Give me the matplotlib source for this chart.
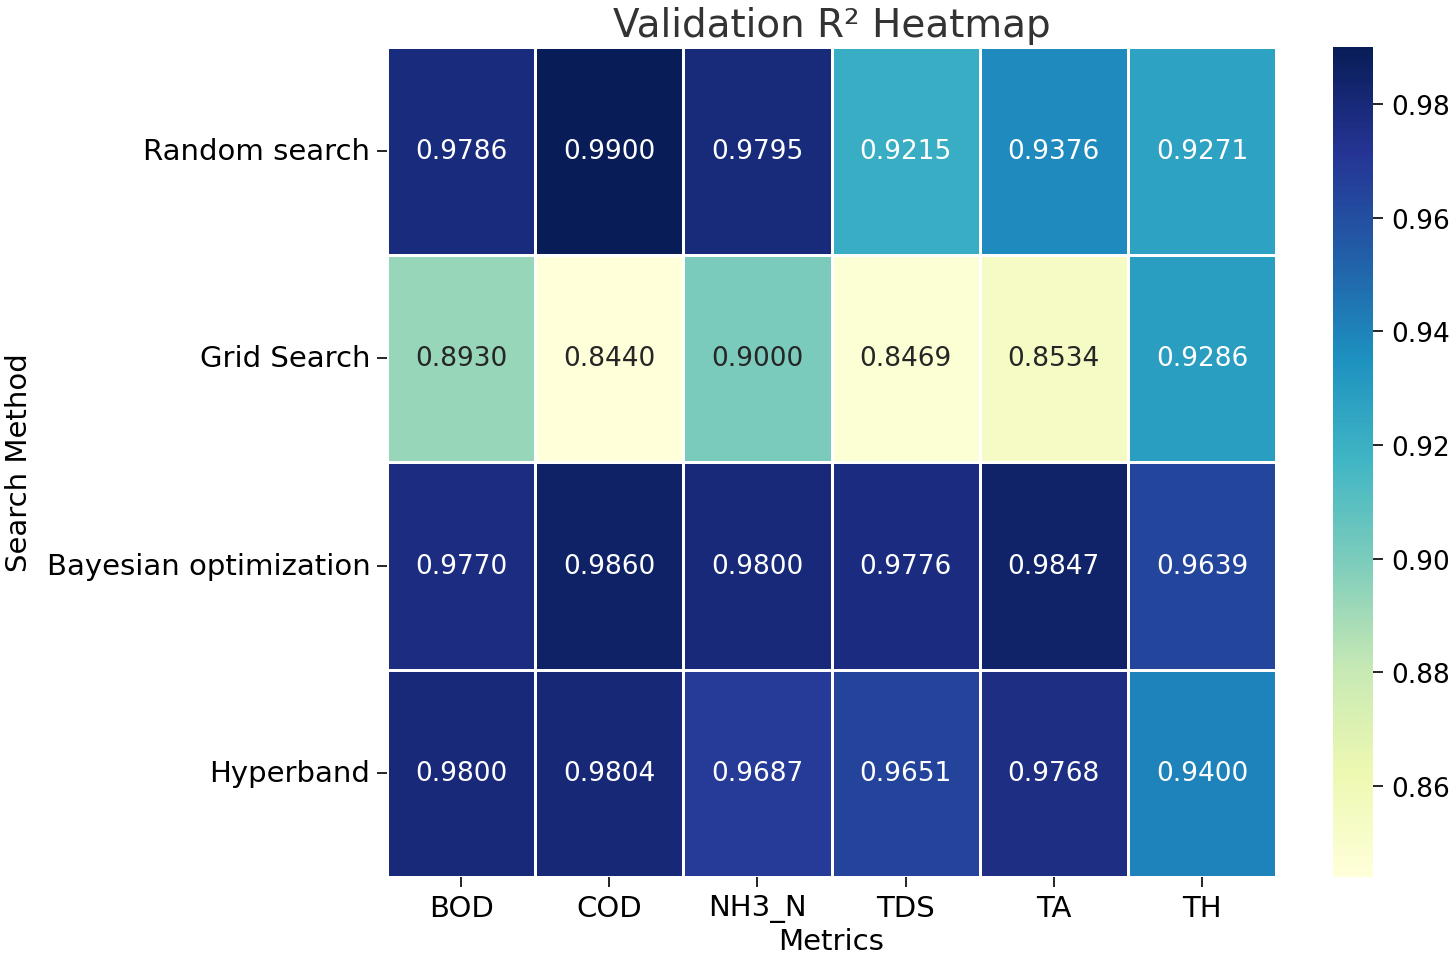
import numpy as np
import matplotlib
matplotlib.use('Agg')
import matplotlib.pyplot as plt
import seaborn as sns

methods = ['Random search', 'Grid Search', 'Bayesian optimization', 'Hyperband']
metrics = ['BOD', 'COD', 'NH3_N', 'TDS', 'TA', 'TH']
r2 = np.array([
    [0.9786, 0.9900, 0.9795, 0.9215, 0.9376, 0.9271],
    [0.8930, 0.8440, 0.9000, 0.8469, 0.8534, 0.9286],
    [0.9770, 0.9860, 0.9800, 0.9776, 0.9847, 0.9639],
    [0.9800, 0.9804, 0.9687, 0.9651, 0.9768, 0.9400],
])

W, H = 1451, 954
fig = plt.figure(figsize=(W/100, H/100), dpi=100)
ax = fig.add_axes([387/W, 1-878/H, (1276-387)/W, (878-48)/H])
cax = fig.add_axes([1333/W, 1-878/H, 40/W, (878-48)/H])

sns.heatmap(r2, annot=True, fmt='.4f', cmap='YlGnBu', linewidths=1.0, linecolor='white',
            xticklabels=metrics, yticklabels=methods, ax=ax, cbar_ax=cax,
            annot_kws={'fontsize': 19})

ax.set_title('Validation R² Heatmap', fontsize=28, color='#333333', pad=8)
ax.set_xlabel('Metrics', fontsize=21, labelpad=4)
ax.set_ylabel('Search Method', fontsize=21, labelpad=10)
ax.tick_params(axis='both', labelsize=21, length=7, width=1.2, pad=5)
plt.setp(ax.get_yticklabels(), rotation=0)
plt.setp(ax.get_xticklabels(), rotation=0)
cax.tick_params(labelsize=19, length=7, width=1.2, pad=6)
cax.set_yticks([0.86, 0.88, 0.90, 0.92, 0.94, 0.96, 0.98])
cax.set_yticklabels(['0.86', '0.88', '0.90', '0.92', '0.94', '0.96', '0.98'])
for s in cax.spines.values():
    s.set_visible(False)

fig.savefig('out.png', dpi=100)
